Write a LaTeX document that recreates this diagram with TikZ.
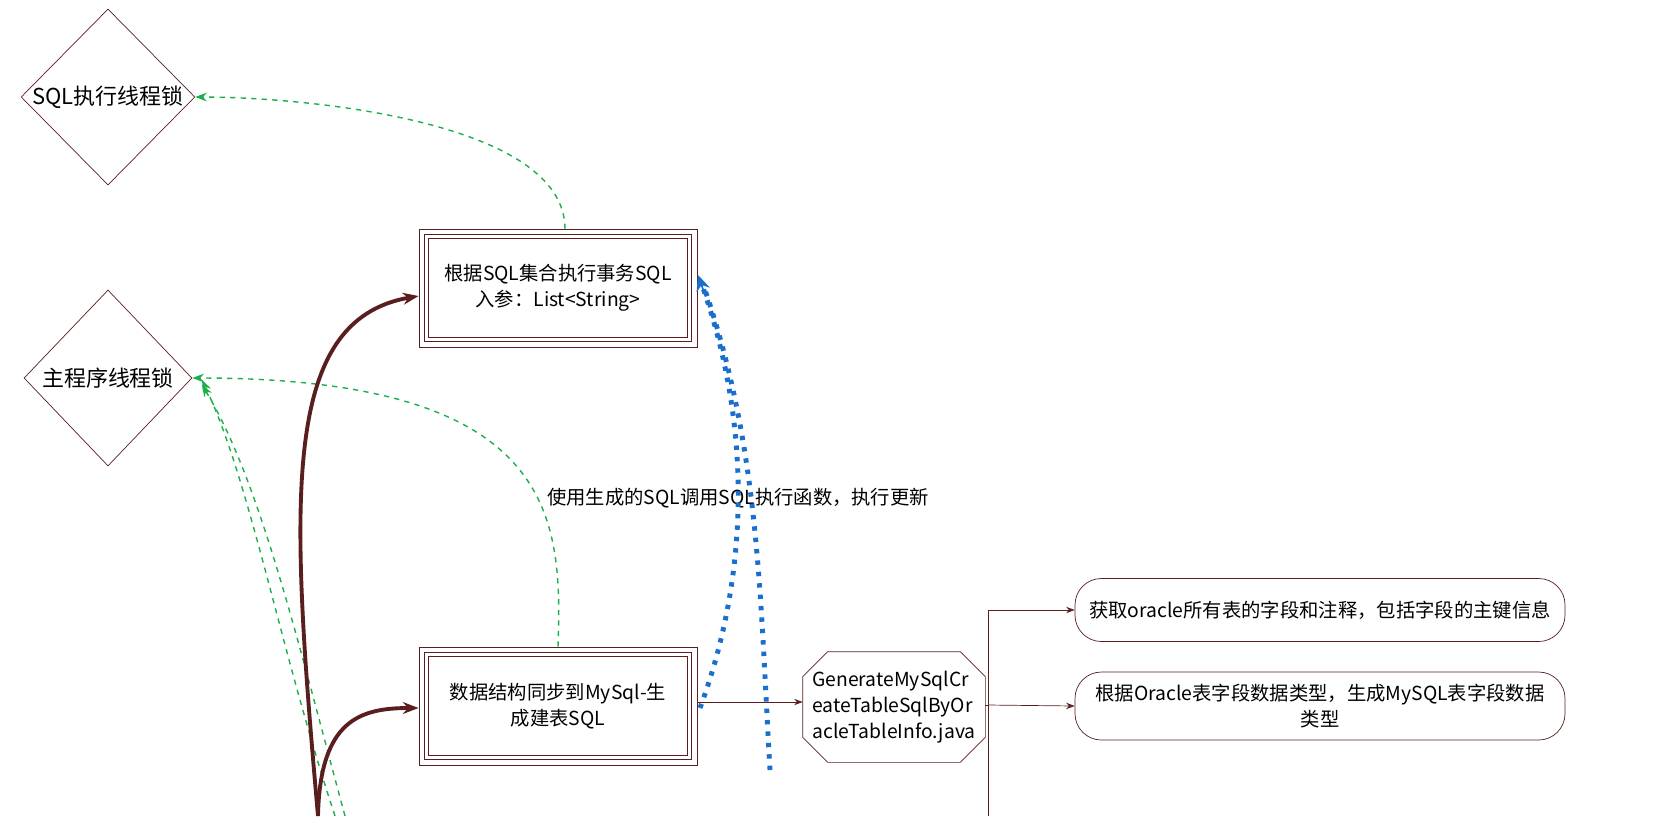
\documentclass[tikz,border=0pt]{standalone}
\usepackage{fontspec}
\setmainfont{Noto Sans CJK SC}
\usetikzlibrary{shapes.geometric,arrows.meta,calc}
\definecolor{br}{HTML}{5A1E1E}
\definecolor{gr}{HTML}{1DB04A}
\definecolor{bl}{HTML}{1A6FCC}
\begin{document}
\begin{tikzpicture}[x=0.02cm,y=-0.02cm,
 dia/.style={draw=br,diamond,minimum width=168*0.02cm,minimum height=176*0.02cm,inner sep=0pt,font=\fontsize{12.5}{14}\selectfont},
 tri/.style={draw=br,minimum width=278*0.02cm,minimum height=118*0.02cm,align=center,font=\fontsize{11}{15}\selectfont},
 rnd/.style={draw=br,rounded corners=15pt,minimum width=490*0.02cm,align=center,font=\fontsize{11}{15}\selectfont},
 gd/.style={draw=gr,dashed,thick,-{Stealth}},
 bt/.style={draw=br,line width=2.2pt,-{Stealth[length=9pt]}},
 bd/.style={draw=bl,line width=2.8pt,dash pattern=on 2.5pt off 4pt},
 thin/.style={draw=br,-{Stealth}}]
\useasboundingbox (0,0) rectangle (1666,816);
\node[dia] (d1) at (108,97) {SQL执行线程锁};
\node[dia] (d2) at (108,378) {主程序线程锁};
\node[tri] (b1) at (558,288) {根据SQL集合执行事务SQL\\入参：List<String>};
\node[tri] (b2) at (558,706) {数据结构同步到MySql-生\\成建表SQL};
\foreach \b in {b1,b2}{
 \draw[br] ($(\b.north west)+(6,6)$) rectangle ($(\b.south east)+(-6,-6)$);
 \draw[br] ($(\b.north west)+(10,10)$) rectangle ($(\b.south east)+(-10,-10)$);}
\node[minimum width=182*0.02cm,minimum height=110*0.02cm,inner sep=0pt,align=left,font=\fontsize{11}{15}\selectfont] (o) at (894,707) {GenerateMySqlCr\\eateTableSqlByOr\\acleTableInfo.java};
\draw[br] ($(o.north west)+(25,0)$) -- ($(o.north east)+(-25,0)$) -- ($(o.north east)+(0,25)$) -- ($(o.south east)+(0,-25)$) -- ($(o.south east)+(-25,0)$) -- ($(o.south west)+(25,0)$) -- ($(o.south west)+(0,-25)$) -- ($(o.north west)+(0,25)$) -- cycle;
\node[rnd,minimum height=63*0.02cm] (r1) at (1320,610) {获取oracle所有表的字段和注释，包括字段的主键信息};
\node[rnd,minimum height=68*0.02cm] (r2) at (1320,706) {根据Oracle表字段数据类型，生成MySQL表字段数据\\类型};
\node[font=\fontsize{11}{14}\selectfont] (lab) at (738,498) {使用生成的SQL调用SQL执行函数，执行更新};
\coordinate (s) at (318,816);
\coordinate (g) at (345,816);
\coordinate (v) at (770,770);
\coordinate (j) at (988,705);
\draw[gd] (565,229) .. controls (565,120) and (300,97) .. (d1.east);
\draw[gd] (b2.north) .. controls (562,520) and (560,378) .. (d2.east);
\draw[gd] (g) .. controls (300,650) and (260,480) .. (202,385);
\draw[gd] (335,816) .. controls (280,650) and (250,480) .. (202,380);
\draw[bt] (s) .. controls (290,500) and (280,320) .. (b1.west|-0,296);
\draw[bt] (s) .. controls (320,720) and (360,708) .. (b2.west|-0,708);
\draw[bd] (700,708) .. controls (740,600) and (760,450) .. (702,285);
\draw[bl,line width=1pt,-{Stealth[length=9pt,width=8pt]}] (705,295) -- (698,275);
\draw[bd] (v) .. controls (760,600) and (760,450) .. (705,290);
\draw[thin] (697,702) -- (o.west|-0,702);
\draw[br] (o.east|-0,705) -- (j);
\draw[thin] (988,816) -- (988,610) -- (r1.west);
\draw[thin] (j) -- (r2.west);
\end{tikzpicture}
\end{document}
